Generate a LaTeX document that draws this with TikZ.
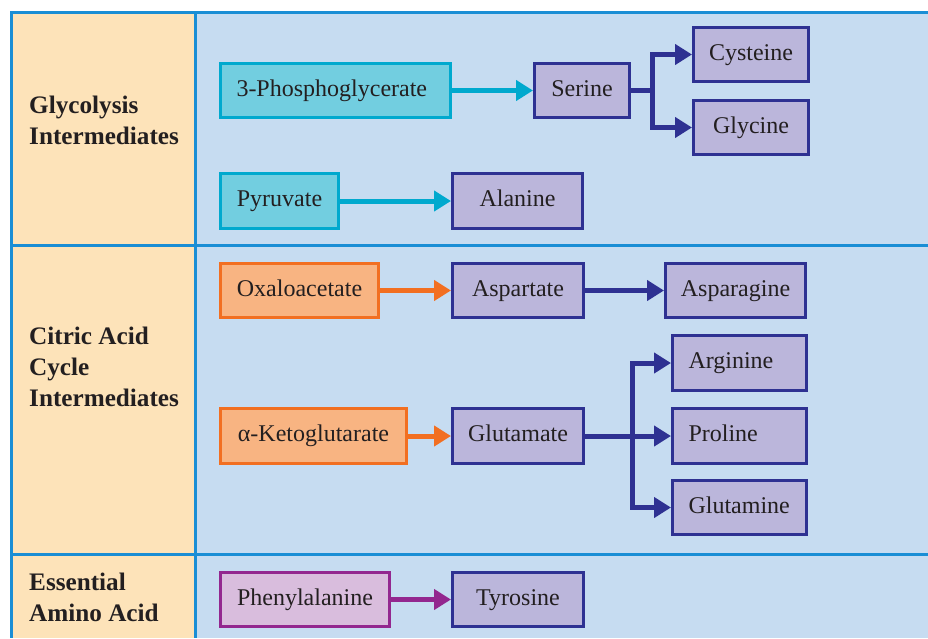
\documentclass[tikz,border=0pt]{standalone}
\usepackage{fontspec}
\setmainfont{Liberation Serif}
\usetikzlibrary{arrows.meta}
\definecolor{peach}{HTML}{FDE3B9}
\definecolor{lblue}{HTML}{C6DCF1}
\definecolor{frameblue}{HTML}{1A8ED5}
\definecolor{cyanfill}{HTML}{72CEE0}
\definecolor{cyanline}{HTML}{00A9CE}
\definecolor{purfill}{HTML}{BBB6DB}
\definecolor{purline}{HTML}{2E3192}
\definecolor{orfill}{HTML}{F8B482}
\definecolor{orline}{HTML}{F26F21}
\definecolor{pkfill}{HTML}{D9BDDD}
\definecolor{pkline}{HTML}{93278F}
\definecolor{txt}{HTML}{231F20}
\begin{document}
\begin{tikzpicture}[x=1pt,y=-1pt,
  font=\fontsize{24}{31}\selectfont, text=txt,
  frame/.style={draw=frameblue, line width=3pt},
  box/.style={draw, line width=3pt, minimum height=54pt, inner xsep=0pt, inner ysep=0pt,
    text height=16pt, text depth=5pt, align=center},
  lbox/.style={box, align=left, inner xsep=16pt},
  cyanbox/.style={fill=cyanfill, draw=cyanline},
  purbox/.style={fill=purfill, draw=purline},
  orbox/.style={fill=orfill, draw=orline},
  pkbox/.style={fill=pkfill, draw=pkline},
  arr/.style={line width=5pt, -{Triangle[length=17pt,width=20pt]}},
  head/.style={font=\fontsize{25.2}{31}\selectfont\bfseries, anchor=base west, align=left, inner sep=0pt}
]
\useasboundingbox (0,0) rectangle (928,638);
% background panels
\fill[peach] (11.5,12.5) rectangle (195.5,638);
\fill[lblue] (195.5,12.5) rectangle (928,638);
\draw[frame] (928,12.5) -- (11.5,12.5) -- (11.5,638);
\draw[frame] (195.5,12.5) -- (195.5,638);
\draw[frame] (11.5,245) -- (928,245);
\draw[frame] (11.5,554) -- (928,554);

% row headings (base anchor = last line's baseline)
\node[head] (h1) at (29,144) {Glycolysis\\Intermediates};
\node[head] (h2) at (29,406) {Citric Acid\\Cycle\\Intermediates};
\node[head] (h3) at (29,621) {Essential\\Amino Acid};

% boxes
\node[lbox, cyanbox, text width=198pt] (pg) at (335.5,90.5) {3-Phosphoglycerate};
\node[box, cyanbox, minimum width=118pt, minimum height=55pt] (pyr) at (279.5,201) {Pyruvate};
\node[box, purbox, minimum width=95pt] (ser) at (582,90.5) {Serine};
\node[box, purbox, minimum width=130pt, minimum height=55pt] (ala) at (517.5,201) {Alanine};
\node[box, purbox, minimum width=115pt] (cys) at (751,54.5) {Cysteine};
\node[box, purbox, minimum width=115pt] (gly) at (751,127.5) {Glycine};

\node[box, orbox, minimum width=158pt] (oxa) at (299.5,290.5) {Oxaloacetate};
\node[box, purbox, minimum width=131pt] (asp) at (518,290.5) {Aspartate};
\node[box, purbox, minimum width=140pt] (asn) at (735.5,290.5) {Asparagine};
\node[box, orbox, minimum width=186pt, minimum height=55pt] (akg) at (313.5,436) {α-Ketoglutarate};
\node[box, purbox, minimum width=131pt, minimum height=55pt] (glu) at (518,436) {Glutamate};
\node[lbox, purbox, text width=102pt, minimum height=55pt] (arg) at (739.5,363) {Arginine};
\node[lbox, purbox, text width=102pt, minimum height=55pt] (pro) at (739.5,436) {Proline};
\node[lbox, purbox, text width=102pt] (gln) at (739.5,507.5) {Glutamine};

\node[box, pkbox, minimum width=169pt] (phe) at (305,599.5) {Phenylalanine};
\node[box, purbox, minimum width=131pt] (tyr) at (518,599.5) {Tyrosine};

% connectors
\draw[arr, cyanline] (pg.east) -- (pg.east -| ser.west);
\draw[arr, cyanline] (pyr.east) -- (pyr.east -| ala.west);
\draw[line width=5pt, purline] (ser.east) -- ++(21,0) coordinate (sb);
\draw[arr, purline] (sb) |- (cys.west);
\draw[arr, purline] (sb) |- (gly.west);

\draw[arr, orline] (oxa.east) -- (oxa.east -| asp.west);
\draw[arr, purline] (asp.east) -- (asp.east -| asn.west);
\draw[arr, orline] (akg.east) -- (akg.east -| glu.west);
\draw[arr, purline] (glu.east) -- (glu.east -| pro.west);
\coordinate (gb) at (632,436);
\draw[arr, purline] (gb) |- (arg.west);
\draw[arr, purline] (gb) |- (gln.west);

\draw[arr, pkline] (phe.east) -- (phe.east -| tyr.west);
\end{tikzpicture}
\end{document}
